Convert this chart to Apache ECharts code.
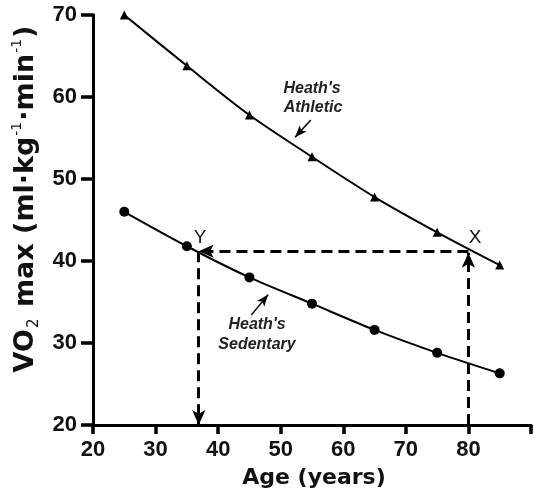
<!DOCTYPE html>
<html><head><meta charset="utf-8">
<script src="https://cdn.jsdelivr.net/npm/echarts@6/dist/echarts.min.js"></script>
<style>html,body{margin:0;padding:0;background:#fff}#c{width:534px;height:495px}</style>
</head><body><div id="c"></div>
<script>
var ages = [25, 35, 45, 55, 65, 75, 85];
var athletic = [70, 63.8, 57.8, 52.7, 47.8, 43.5, 39.5];
var sedentary = [46, 41.8, 38.0, 34.8, 31.6, 28.8, 26.3];
var xTicks = [20, 30, 40, 50, 60, 70, 80];
var yTicks = [20, 30, 40, 50, 60, 70];
var pointX = [80, 41.2];
var pointY = [36.9, 41.2];

var chart = echarts.init(document.getElementById('c'));
var F = 'Arial, "Liberation Sans", Helvetica, sans-serif';
var W = '"DejaVu Sans", Verdana, sans-serif';
var dashStyle = {color: '#000', width: 3, type: [11, 6]};
chart.setOption({
  animation: false,
  grid: {left: 93, top: 15, right: -3, bottom: 70},
  xAxis: [{
    type: 'value', min: 20, max: 90, interval: 10, position: 'bottom',
    axisLine: {show: true, lineStyle: {color: '#000', width: 3}},
    axisTick: {show: true, length: 9, lineStyle: {width: 3.5, color: '#000'}},
    splitLine: {show: false},
    axisLabel: {color: '#111', fontSize: 22, fontWeight: 'bold', fontFamily: F, margin: 14,
      formatter: function (v) { return xTicks.indexOf(v) >= 0 ? String(v) : ''; }},
    name: 'Age (years)', nameLocation: 'middle', nameGap: 42,
    nameTextStyle: {color: '#111', fontSize: 22, fontWeight: 'bold', fontFamily: W, padding: [0, 0, 0, 4]}
  }, {
    type: 'value', min: 20, max: 90, interval: 10, position: 'bottom',
    axisLine: {show: true, lineStyle: {color: '#000', width: 3}},
    axisTick: {show: true, length: 9, lineStyle: {width: 3.5, color: '#000'}},
    splitLine: {show: false}, axisLabel: {show: false}
  }],
  yAxis: [{
    type: 'value', min: 20, max: 70, interval: 10, position: 'left',
    axisLine: {show: true, lineStyle: {color: '#000', width: 3}},
    axisTick: {show: true, length: 12, lineStyle: {width: 3.5, color: '#000'}},
    splitLine: {show: false},
    axisLabel: {color: '#111', fontSize: 22, fontWeight: 'bold', fontFamily: F, margin: 16,
      formatter: function (v) { return yTicks.indexOf(v) >= 0 ? String(v) : ''; }}
  }, {
    type: 'value', min: 20, max: 70, interval: 10, position: 'left',
    axisLine: {show: true, lineStyle: {color: '#000', width: 3}},
    axisTick: {show: true, length: 12, lineStyle: {width: 3.5, color: '#000'}},
    splitLine: {show: false}, axisLabel: {show: false}
  }],
  graphic: [
    {type: 'text', x: 26, y: 199, rotation: Math.PI / 2,
      style: {
        text: '{a|VO}{sub|2}{a| max (ml·kg}{sup|-1}{a|·min}{sup|-1}{a|)}',
        align: 'center', verticalAlign: 'middle', fill: '#111',
        rich: {
          a: {fontSize: 27, fontWeight: 'bold', fontFamily: W, fill: '#111', lineHeight: 32},
          sub: {fontSize: 15, fontFamily: W, fill: '#111', verticalAlign: 'bottom', lineHeight: 32, padding: [12, 2, 0, 1]},
          sup: {fontSize: 14, fontFamily: W, fill: '#111', verticalAlign: 'top', lineHeight: 32, padding: [0, 1, 12, 1]}
        }
      }},
    {type: 'text', x: 312, y: 89, style: {text: "Heath's", align: 'center', verticalAlign: 'middle', font: 'italic bold 16px ' + F, fill: '#222'}},
    {type: 'text', x: 313, y: 108, style: {text: 'Athletic', align: 'center', verticalAlign: 'middle', font: 'italic bold 16px ' + F, fill: '#222'}},
    {type: 'text', x: 257, y: 325, style: {text: "Heath's", align: 'center', verticalAlign: 'middle', font: 'italic bold 16px ' + F, fill: '#222'}},
    {type: 'text', x: 257, y: 345, style: {text: 'Sedentary', align: 'center', verticalAlign: 'middle', font: 'italic bold 16px ' + F, fill: '#222'}},
    {type: 'text', x: 200, y: 238, style: {text: 'Y', align: 'center', verticalAlign: 'middle', font: '19px ' + F, fill: '#111'}},
    {type: 'text', x: 475, y: 238, style: {text: 'X', align: 'center', verticalAlign: 'middle', font: '19px ' + F, fill: '#111'}}
  ],
  series: [
    {type: 'line', xAxisIndex: 0, yAxisIndex: 0, data: ages.map(function (a, i) { return [a, athletic[i]]; }),
      smooth: 0.3, symbol: 'triangle', symbolSize: 9, showAllSymbol: true,
      lineStyle: {color: '#000', width: 2}, itemStyle: {color: '#000'}, z: 3,
      markLine: {silent: true, symbol: ['none', 'arrow'], symbolSize: [7, 12], label: {show: false},
        lineStyle: {color: '#000', width: 1.5, type: 'solid'},
        data: [[{coord: [54.8, 57.2]}, {coord: [52.3, 55.1]}], [{coord: [45.3, 33.4]}, {coord: [48.0, 35.9]}]]}},
    {type: 'line', xAxisIndex: 0, yAxisIndex: 0, data: ages.map(function (a, i) { return [a, sedentary[i]]; }),
      smooth: 0.3, symbol: 'circle', symbolSize: 10, showAllSymbol: true,
      lineStyle: {color: '#000', width: 2}, itemStyle: {color: '#000'}, z: 3,
      markLine: {silent: true, symbol: ['none', 'arrow'], symbolSize: [10, 15], label: {show: false},
        lineStyle: dashStyle,
        data: [
          [{coord: [pointX[0], 20]}, {coord: [pointX[0], pointX[1] - 0.2]}],
          [{coord: [pointX[0], pointX[1]]}, {coord: [pointY[0], pointY[1]]}],
          [{coord: [pointY[0], pointY[1]]}, {coord: [pointY[0], 20]}]
        ]}}
  ]
});
</script></body></html>
